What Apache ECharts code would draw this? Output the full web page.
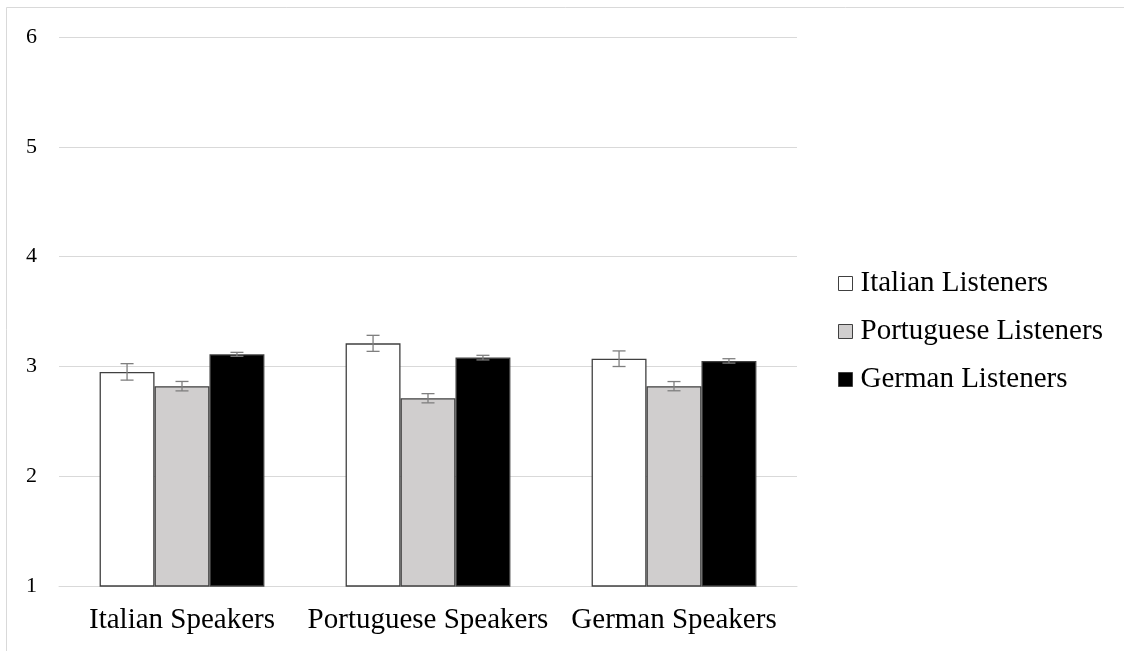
<!DOCTYPE html>
<html>
<head>
<meta charset="utf-8">
<script src="https://cdn.jsdelivr.net/npm/echarts@6/dist/echarts.min.js"></script>
<style>
  html, body { margin: 0; padding: 0; background: #fff; }
  #chart { width: 1124px; height: 651px; }
</style>
</head>
<body>
<div id="chart"></div>
<script>
// Speaker groups on the x axis
const categories = ['Italian Speakers', 'Portuguese Speakers', 'German Speakers'];
// Listener groups (one bar series each)
const seriesNames = ['Italian Listeners', 'Portuguese Listeners', 'German Listeners'];
// Mean ratings
const italianListeners = [2.95, 3.21, 3.07];
const portugueseListeners = [2.82, 2.71, 2.82];
const germanListeners = [3.11, 3.08, 3.05];
// Standard errors
const italianErr = [0.075, 0.073, 0.071];
const portugueseErr = [0.043, 0.042, 0.042];
const germanErr = [0.018, 0.021, 0.02];
// Value axis ticks
const yTicks = [1, 2, 3, 4, 5, 6];

const means = [italianListeners, portugueseListeners, germanListeners];
const errs = [italianErr, portugueseErr, germanErr];
const fills = ['#ffffff', '#d0cece', '#000000'];
const CAT_GAP = 0.33;
const FONT = '"Liberation Serif", "Times New Roman", serif';

const chart = echarts.init(document.getElementById('chart'));

function errorSeries(idx) {
  const data = categories.map((c, i) => [i, means[idx][i] - errs[idx][i], means[idx][i] + errs[idx][i]]);
  return {
    type: 'custom',
    name: seriesNames[idx] + ' error',
    data: data,
    z: 10,
    silent: true,
    renderItem: function (params, api) {
      const x = api.value(0);
      const lo = api.coord([x, api.value(1)]);
      const hi = api.coord([x, api.value(2)]);
      const band = api.size([1, 0])[0];
      const bw = band * (1 - CAT_GAP) / 3;
      const cx = lo[0] + (idx - 1) * bw;
      const half = 6.5;
      const style = { stroke: '#7f7f7f', lineWidth: 1.3 };
      return {
        type: 'group',
        children: [
          { type: 'line', shape: { x1: cx, y1: hi[1], x2: cx, y2: lo[1] }, style: style },
          { type: 'line', shape: { x1: cx - half, y1: hi[1], x2: cx + half, y2: hi[1] }, style: style },
          { type: 'line', shape: { x1: cx - half, y1: lo[1], x2: cx + half, y2: lo[1] }, style: style }
        ]
      };
    },
    encode: { x: 0, y: [1, 2] }
  };
}

const barSeries = seriesNames.map((name, idx) => ({
  type: 'bar',
  name: name,
  data: means[idx],
  barGap: '0%',
  barCategoryGap: (CAT_GAP * 100) + '%',
  itemStyle: { color: fills[idx], borderColor: '#404040', borderWidth: 1.3 },
  emphasis: { disabled: true }
}));

chart.setOption({
  animation: false,
  backgroundColor: '#ffffff',
  graphic: [{
    type: 'rect',
    shape: { x: 6.5, y: 7.5, width: 1200, height: 700 },
    style: { fill: 'none', stroke: '#d9d9d9', lineWidth: 1 },
    silent: true,
    z: -10
  }],
  grid: { left: 59, right: 327, top: 37, bottom: 65 },
  legend: {
    orient: 'vertical',
    left: 833,
    top: 264,
    itemWidth: 14,
    itemHeight: 14,
    itemGap: 19,
    icon: 'rect',
    data: seriesNames.map((n, i) => ({
      name: n,
      itemStyle: { color: fills[i], borderColor: '#404040', borderWidth: 1 }
    })),
    textStyle: { fontFamily: FONT, fontSize: 29, color: '#000', padding: [0, 0, 0, 3] }
  },
  xAxis: {
    type: 'category',
    data: categories,
    axisLine: { lineStyle: { color: '#d9d9d9', width: 1 } },
    axisTick: { show: false },
    axisLabel: { fontFamily: FONT, fontSize: 29, color: '#000', margin: 20, interval: 0, hideOverlap: false }
  },
  yAxis: {
    type: 'value',
    min: yTicks[0],
    max: yTicks[yTicks.length - 1],
    interval: 1,
    axisLine: { show: false },
    axisTick: { show: false },
    splitLine: { lineStyle: { color: '#d9d9d9', width: 1 } },
    axisLabel: { fontFamily: FONT, fontSize: 22, color: '#000', margin: 22 }
  },
  series: barSeries.concat([errorSeries(0), errorSeries(1), errorSeries(2)])
});
</script>
</body>
</html>
